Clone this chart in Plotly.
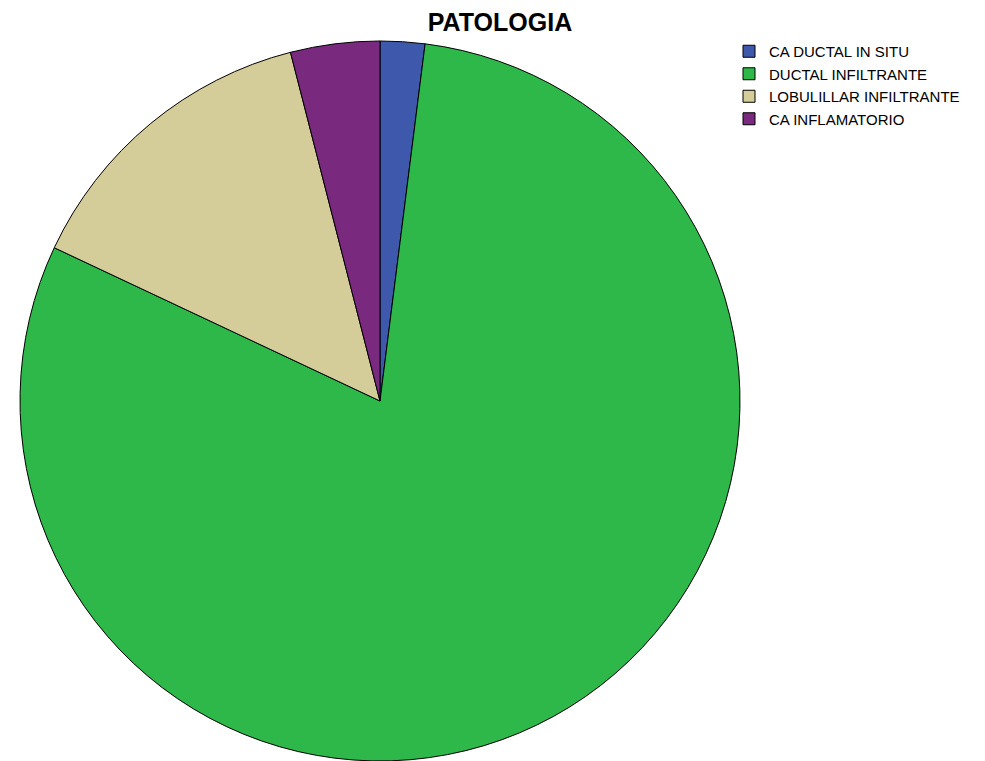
import plotly.graph_objects as go

categories = ["CA DUCTAL IN SITU", "DUCTAL INFILTRANTE", "LOBULILLAR INFILTRANTE", "CA INFLAMATORIO"]
counts = [1, 40, 7, 2]
colors = ["#3e58ac", "#2eb84a", "#d4cc99", "#7a2a7e"]

W, H = 985, 761
cx, cy, r = 380, 401, 360

fig = go.Figure(go.Pie(
    labels=categories,
    values=counts,
    sort=False,
    direction="clockwise",
    rotation=0,
    textinfo="none",
    marker=dict(colors=colors, line=dict(color="black", width=1)),
    domain=dict(x=[(cx - r) / W, (cx + r) / W], y=[(H - cy - r) / H, (H - cy + r) / H]),
))

fig.update_layout(
    width=W, height=H,
    margin=dict(l=0, r=0, t=0, b=0),
    paper_bgcolor="white",
    plot_bgcolor="white",
    font=dict(family="Liberation Sans, Arial", color="black"),
    title=dict(text="<b>PATOLOGIA</b>", x=500 / W, xanchor="center", y=1 - 22 / H, yanchor="middle",
               font=dict(size=25, family="Liberation Sans, Arial", color="black")),
    legend=dict(x=729 / W, y=1 - 35 / H, xanchor="left", yanchor="top",
                font=dict(size=15, family="Liberation Sans, Arial", color="black"),
                itemwidth=30, tracegroupgap=0, bgcolor="rgba(0,0,0,0)"),
)

fig.write_html("out.html")
